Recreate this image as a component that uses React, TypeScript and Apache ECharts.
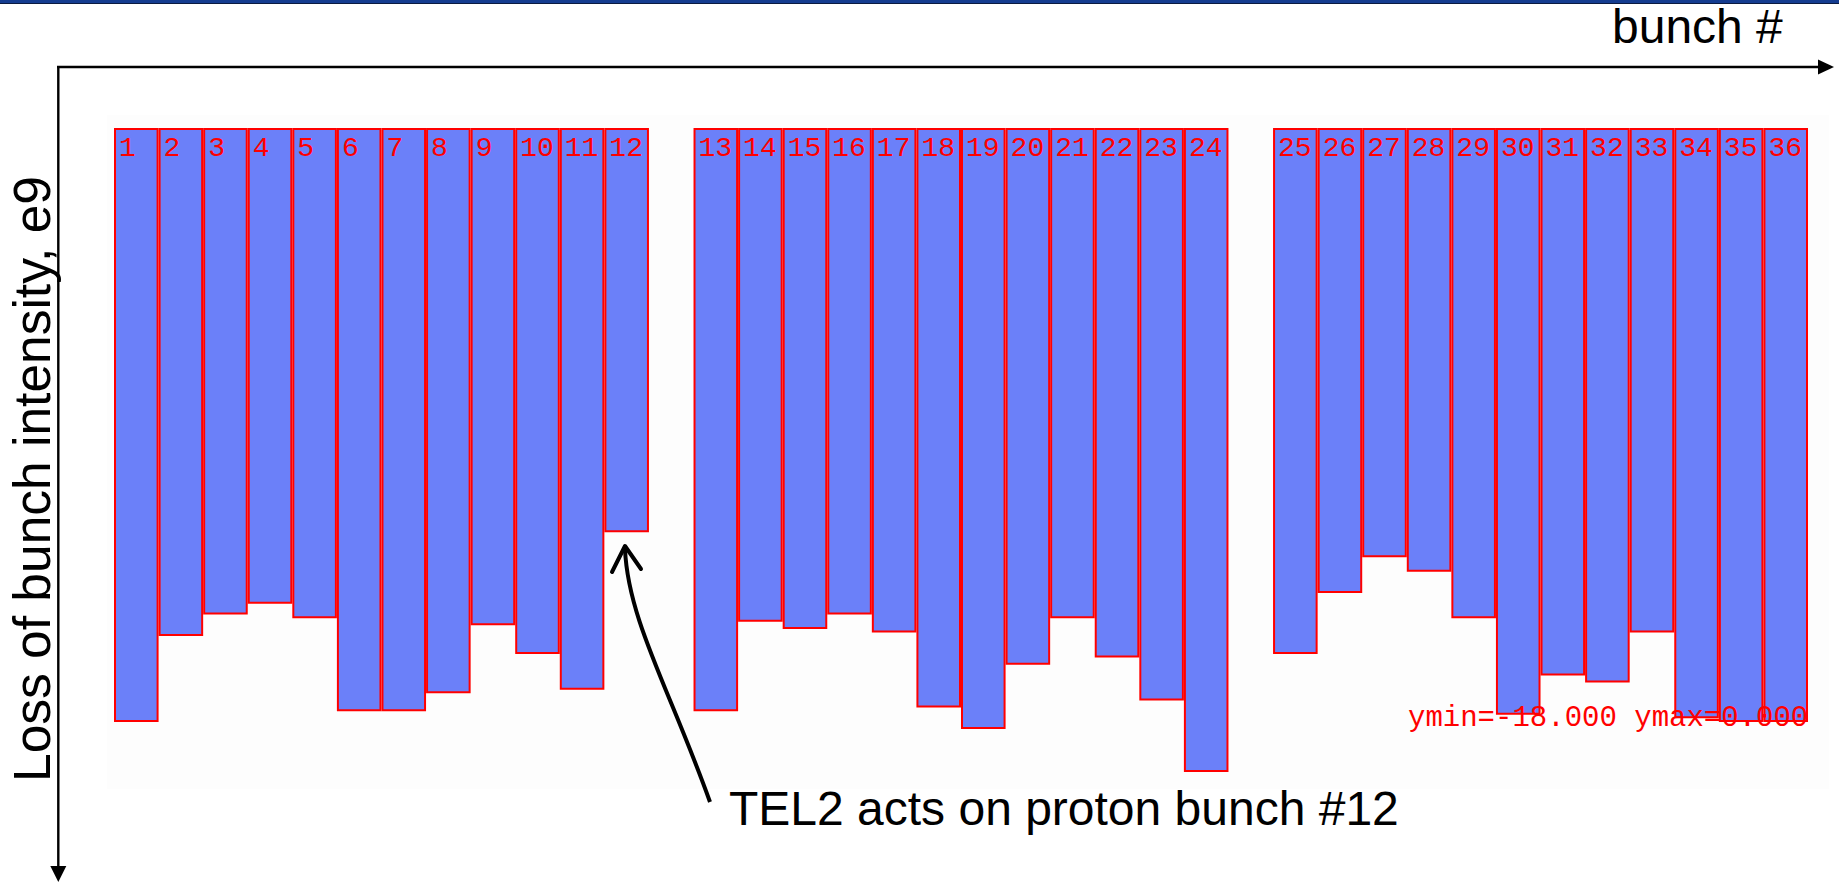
import React, { useEffect, useRef } from 'react';
import * as echarts from 'echarts';

// Bunch numbers (three trains of 12 bunches, with an empty slot between trains)
const train1Bunches = ['1', '2', '3', '4', '5', '6', '7', '8', '9', '10', '11', '12'];
const train2Bunches = ['13', '14', '15', '16', '17', '18', '19', '20', '21', '22', '23', '24'];
const train3Bunches = ['25', '26', '27', '28', '29', '30', '31', '32', '33', '34', '35', '36'];

// Loss of bunch intensity (e9), drawn downward from 0
const train1Loss = [-16.6, -14.2, -13.6, -13.3, -13.7, -16.3, -16.3, -15.8, -13.9, -14.7, -15.7, -11.3];
const train2Loss = [-16.3, -13.8, -14.0, -13.6, -14.1, -16.2, -16.8, -15.0, -13.7, -14.8, -16.0, -18.0];
const train3Loss = [-14.7, -13.0, -12.0, -12.4, -13.7, -16.4, -15.3, -15.5, -14.1, -16.5, -16.6, -16.6];

const yMin = -18;
const yMax = 0;

const categories = [...train1Bunches, '', ...train2Bunches, '', ...train3Bunches];
const values: (number | null)[] = [...train1Loss, null, ...train2Loss, null, ...train3Loss];

export default function App() {
  const ref = useRef<HTMLDivElement>(null);

  useEffect(() => {
    const chart = echarts.init(ref.current!, null, { renderer: 'svg' });
    const sans = 'Liberation Sans, Arial, sans-serif';
    const mono = 'Liberation Mono, Courier New, monospace';
    chart.setOption({
      animation: false,
      backgroundColor: '#ffffff',
      grid: { left: 114, right: 31, top: 128, bottom: 110 },
      xAxis: {
        type: 'category',
        data: categories,
        show: false,
        boundaryGap: true,
      },
      yAxis: {
        type: 'value',
        min: yMin,
        max: yMax,
        show: false,
      },
      series: [
        {
          type: 'bar',
          data: values,
          barCategoryGap: '0%',
          itemStyle: { color: '#6b80f9', borderColor: '#ff0000', borderWidth: 2 },
          label: {
            show: true,
            position: [5, 6],
            formatter: (p: any) => p.name,
            color: '#ff0000',
            fontFamily: mono,
            fontSize: 28,
          },
        },
      ],
      graphic: [
        { type: 'rect', z: -10, shape: { x: 107, y: 115, width: 1722, height: 674 }, style: { fill: '#fdfdfd' } },
        { type: 'rect', z: 100, shape: { x: 0, y: 0, width: 1839, height: 3 }, style: { fill: '#143c90' } },
        { type: 'line', z: 100, shape: { x1: 0, y1: 3.5, x2: 1839, y2: 3.5 }, style: { stroke: '#0a1a40', lineWidth: 1 } },
        // horizontal axis arrow
        { type: 'line', z: 100, shape: { x1: 57, y1: 67, x2: 1822, y2: 67 }, style: { stroke: '#000', lineWidth: 2.6 } },
        { type: 'polygon', z: 100, shape: { points: [[1818, 59.5], [1834, 67], [1818, 74.5]] }, style: { fill: '#000' } },
        // vertical axis arrow
        { type: 'line', z: 100, shape: { x1: 58.3, y1: 66, x2: 58.3, y2: 870 }, style: { stroke: '#000', lineWidth: 2.4 } },
        { type: 'polygon', z: 100, shape: { points: [[50.3, 866], [58.3, 882], [66.3, 866]] }, style: { fill: '#000' } },
        // axis titles
        {
          type: 'text', z: 100, x: 1612, y: 26.4,
          style: { text: 'bunch #', fill: '#000', font: `48px ${sans}`, align: 'left', verticalAlign: 'middle' },
        },
        {
          type: 'text', z: 100, x: 32, y: 479, rotation: Math.PI / 2,
          style: { text: 'Loss of bunch intensity, e9', fill: '#000', font: `51.5px ${sans}`, align: 'center', verticalAlign: 'middle' },
        },
        // ROOT stats text
        {
          type: 'text', z: 100, x: 1408, y: 718,
          style: { text: 'ymin=-18.000 ymax=0.000', fill: '#ff0000', font: `29px ${mono}`, align: 'left', verticalAlign: 'middle' },
        },
        // annotation
        {
          type: 'text', z: 100, x: 729, y: 808,
          style: { text: 'TEL2 acts on proton bunch #12', fill: '#000', font: `48px ${sans}`, align: 'left', verticalAlign: 'middle' },
        },
        {
          type: 'bezierCurve', z: 100,
          shape: { x1: 710, y1: 802, cpx1: 670, cpy1: 690, cpx2: 628, cpy2: 620, x2: 625, y2: 549 },
          style: { stroke: '#000', lineWidth: 4, fill: null },
        },
        {
          type: 'polyline', z: 100,
          shape: { points: [[612, 572], [625, 546], [641, 569]] },
          style: { stroke: '#000', lineWidth: 4, lineCap: 'round', lineJoin: 'round', fill: null },
        },
      ],
    });
    return () => chart.dispose();
  }, []);

  return (
    <div
      ref={ref}
      style={{ position: 'fixed', left: 0, top: 0, width: 1839, height: 882, background: '#ffffff' }}
    />
  );
}
